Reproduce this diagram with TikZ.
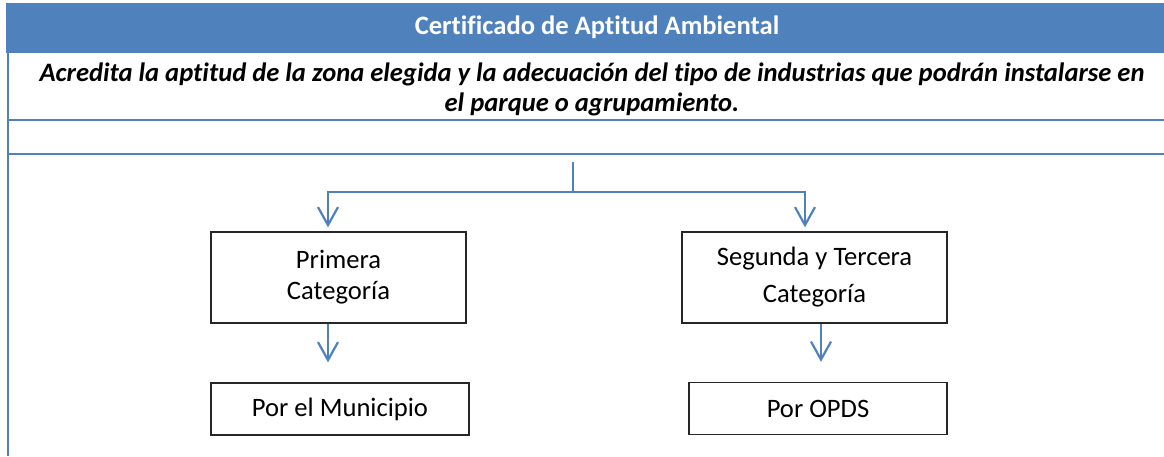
\documentclass[tikz,border=0pt]{standalone}
\usepackage{fontspec}
\setmainfont{Carlito}[Ligatures={NoCommon}]
\usetikzlibrary{arrows.meta}
\usetikzlibrary{positioning}
\definecolor{officeblue}{HTML}{4F81BD}
\tikzset{
catbox/.style={ % boxes of the chart
draw=black!85,
line width=0.65pt,
align=center,
font=\fontsize{13.3}{15.5}\selectfont,
inner sep=0pt},
rule/.style={ % blue lines of the frame
draw=officeblue,
line width=1.4pt},
flow/.style={ % blue connectors
draw=officeblue,
line width=1.1pt,
-{Straight Barb[length=9pt,width=10pt,line width=1.1pt]}}}

\begin{document}
\begin{tikzpicture}[x=0.5pt,y=-0.5pt]
\useasboundingbox (0,0) rectangle (1164,456);
% frame
\fill[officeblue] (6,3) rectangle (1164,53);
\draw[rule] (8,3) -- (8,456);
\draw[rule] (8,120) -- (1164,120);
\draw[rule] (8,154) -- (1164,154);
\node[text=white, font=\fontsize{13.3}{15}\selectfont\bfseries] (title) at (597,27) {Certificado de Aptitud Ambiental};
\node[align=center, font=\fontsize{13.3}{15}\selectfont\bfseries\itshape] (desc) at (592,89)
{Acredita la aptitud de la zona elegida y la adecuación del tipo de industrias que podrán instalarse en\\el parque o agrupamiento.};
% chart
\node[catbox, minimum width=127.5pt, minimum height=45.5pt] (B1) at (338.5,277.5) {Primera\\Categoría};
\node[catbox, minimum width=132.5pt, minimum height=45.5pt] (B2) at (814.5,277.5) {Segunda y Tercera\\[3pt]Categoría};
\node[catbox, minimum width=129pt, minimum height=26pt] (B3) at (340,409) {Por el Municipio};
\node[catbox, minimum width=129pt, minimum height=26pt] (B4) at (818,408.5) {Por OPDS};
\coordinate (top) at (573,162);
\coordinate (fork) at (573,192);
\draw[rule, line width=1.1pt] (top) -- (fork);
\draw[flow, shorten >=2pt] (fork) -| ([xshift=-5.25pt]B1.north);
\draw[flow, shorten >=2pt] (fork) -| ([xshift=-4.75pt]B2.north);
\draw[flow, shorten >=10pt] ([xshift=-5.25pt]B1.south) -- ([xshift=-5.25pt]B1.south |- B3.north);
\draw[flow, shorten >=10pt] ([xshift=3.25pt]B2.south) -- ([xshift=3.25pt]B2.south |- B4.north);
\end{tikzpicture}
\end{document}
